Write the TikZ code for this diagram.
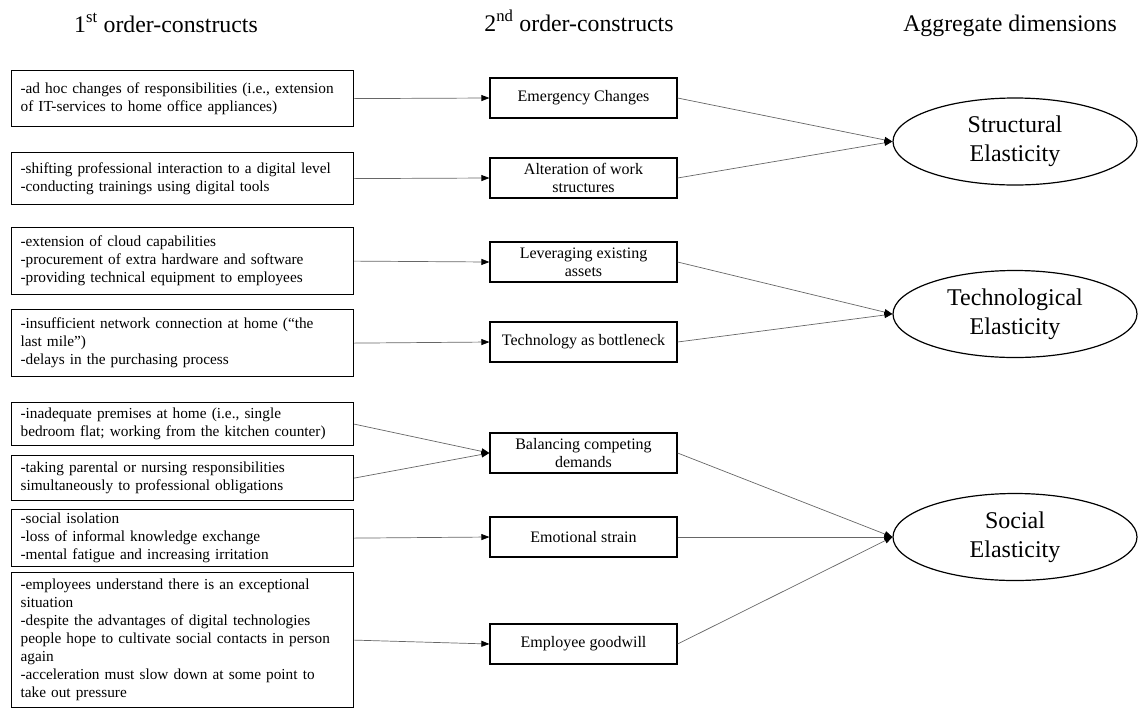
\documentclass[tikz,border=0pt]{standalone}
\usepackage{fontspec}
\setmainfont{Liberation Serif}
\usetikzlibrary{arrows.meta,shapes.geometric}
\begin{document}
\begin{tikzpicture}[x=1pt,y=-1pt,
  lbox/.style={draw=black,line width=1.2pt,anchor=north west,minimum width=342pt,text width=324pt,inner xsep=9pt,inner ysep=0pt,align=left,font=\fontsize{15.3}{18}\selectfont},
  mbox/.style={draw=black,line width=1.2pt,minimum width=187pt,minimum height=40pt,inner sep=0pt,align=center,font=\fontsize{16}{18}\selectfont},
  agg/.style={draw=black,line width=1.2pt,ellipse,minimum width=244pt,minimum height=87pt,inner sep=0pt,align=center,font=\fontsize{24}{29}\selectfont},
  hdr/.style={anchor=base,font=\fontsize{23.8}{28}\selectfont},
  conn/.style={draw=black!60,line width=0.7pt,-{Triangle[length=8pt,width=6pt,black]}}
]
\useasboundingbox (0,0) rectangle (1139,710);

% headers
\node[hdr] (h1) at (166,32) {1\textsuperscript{st} order-constructs};
\node[hdr] (h2) at (579,31) {2\textsuperscript{nd} order-constructs};
\node[hdr] (h3) at (1010,31) {Aggregate dimensions};

% first-order boxes
\node[lbox,minimum height=56pt] (l1) at (11,70) {-ad hoc changes of responsibilities (i.e., extension\\of IT-services to home office appliances)};
\node[lbox,minimum height=52pt] (l2) at (11,152) {-shifting professional interaction to a digital level\\-conducting trainings using digital tools};
\node[lbox,minimum height=67pt] (l3) at (11,227) {-extension of cloud capabilities\\-procurement of extra hardware and software\\-providing technical equipment to employees};
\node[lbox,minimum height=67pt] (l4) at (11,309) {-insufficient network connection at home (“the\\last mile”)\\-delays in the purchasing process};
\node[lbox,minimum height=43pt] (l5) at (11,402) {-inadequate premises at home (i.e., single\\bedroom flat; working from the kitchen counter)};
\node[lbox,minimum height=45pt] (l6) at (11,455) {-taking parental or nursing responsibilities\\simultaneously to professional obligations};
\node[lbox,minimum height=57pt] (l7) at (11,509) {-social isolation\\-loss of informal knowledge exchange\\-mental fatigue and increasing irritation};
\node[lbox,minimum height=135pt] (l8) at (11,572) {-employees understand there is an exceptional\\situation\\-despite the advantages of digital technologies\\people hope to cultivate social contacts in person\\again\\-acceleration must slow down at some point to\\take out pressure};

% second-order boxes
\node[mbox] (m1) at (583.5,98) {Emergency Changes};
\node[mbox] (m2) at (583.5,178) {Alteration of work\\structures};
\node[mbox] (m3) at (583.5,262) {Leveraging existing\\assets};
\node[mbox] (m4) at (583.5,342) {Technology as bottleneck};
\node[mbox] (m5) at (583.5,453) {Balancing competing\\demands};
\node[mbox] (m6) at (583.5,537) {Emotional strain};
\node[mbox] (m7) at (583.5,644) {Employee goodwill};

% aggregate dimensions
\node[agg] (e1) at (1015,141.5) {Structural\\Elasticity};
\node[agg] (e2) at (1015,314) {Technological\\Elasticity};
\node[agg] (e3) at (1015,537) {Social\\Elasticity};

% connectors first -> second
\draw[conn] (l1.east) -- (m1.west);
\draw[conn] (l2.east) -- (m2.west);
\draw[conn] (l3.east) -- (m3.west);
\draw[conn] (l4.east) -- (m4.west);
\draw[conn] (l5.east) -- (m5.west);
\draw[conn] (l6.east) -- (m5.west);
\draw[conn] (l7.east) -- (m6.west);
\draw[conn] (l8.east) -- (m7.west);

% connectors second -> aggregate
\draw[conn] (m1.east) -- (e1.west);
\draw[conn] (m2.east) -- (e1.west);
\draw[conn] (m3.east) -- (e2.west);
\draw[conn] (m4.east) -- (e2.west);
\draw[conn] (m5.east) -- (e3.west);
\draw[conn] (m6.east) -- (e3.west);
\draw[conn] (m7.east) -- (e3.west);
\end{tikzpicture}
\end{document}
